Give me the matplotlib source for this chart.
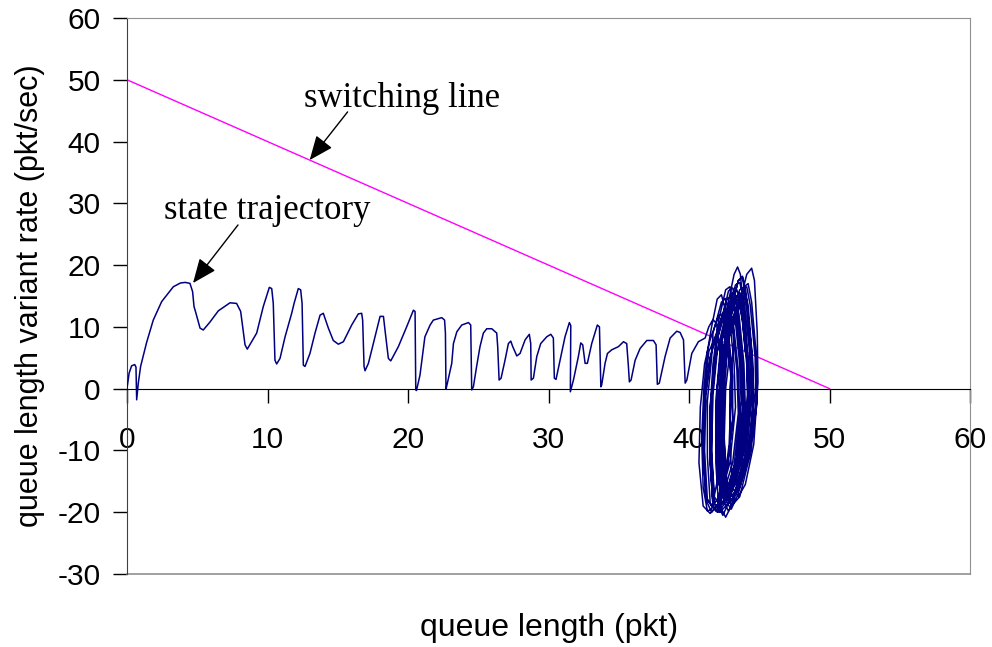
import numpy as np
import matplotlib
matplotlib.use("Agg")
import matplotlib.pyplot as plt

plt.rcParams['axes.unicode_minus'] = False

# state trajectory (queue length, queue length variant rate)
approach_x = [0, 0.15, 0.33, 0.55, 0.64, 0.69, 0.8, 0.97, 1.4, 1.87, 2.47, 3.3, 3.8, 4.13, 4.48, 4.67,
              4.77, 4.91, 5.2, 5.43, 5.91, 6.5, 7.33, 7.8, 8.09, 8.4, 8.56, 8.87, 9.23, 9.7, 10.13,
              10.3, 10.41, 10.53, 10.65, 10.89, 11.25, 11.72, 11.89, 12.19, 12.36, 12.46, 12.55,
              12.67, 13.02, 13.38, 13.74, 13.97, 14.33, 14.68, 15.04, 15.4, 15.99, 16.46, 16.7,
              16.77, 16.87, 16.94, 17.18, 17.65, 18.01, 18.25, 18.36, 18.6, 18.77, 19.31, 19.9,
              20.38, 20.5, 20.55, 20.6, 20.85, 21.2, 21.57, 21.8, 22.4, 22.6, 22.66, 22.7, 22.8,
              23.11, 23.23, 23.47, 23.82, 24.3, 24.46, 24.53, 24.65, 24.88, 25.12, 25.36, 25.6,
              25.96, 26.31, 26.38, 26.48, 26.62, 26.9, 27.14, 27.31, 27.45, 27.74, 27.97, 28.33,
              28.63, 28.73, 28.76, 28.92, 29.16, 29.44, 29.87, 30.16, 30.34, 30.41, 30.53, 30.82,
              31.17, 31.48, 31.58, 31.55, 31.77, 32.12, 32.29, 32.43, 32.6, 32.76, 33.07, 33.47,
              33.62, 33.72, 33.78, 34.02, 34.19, 34.5, 34.97, 35.33, 35.56, 35.68, 35.75, 35.87,
              36.16, 36.51, 36.99, 37.46, 37.65, 37.74, 37.88, 38.29, 38.65, 39.12, 39.36, 39.6,
              39.72, 39.84, 40.19, 40.66, 41.14]
approach_y = [0, 2.5, 3.7, 3.9, 3.5, -1.8, 0.8, 3.6, 7.5, 11.1, 14.1, 16.5, 17.1, 17.2, 17.05, 15.7,
              13.3, 12.2, 9.8, 9.5, 10.8, 12.6, 13.9, 13.8, 12.5, 7.1, 6.4, 7.6, 9.0, 13.3, 16.4,
              16.2, 13.8, 4.6, 4.0, 4.9, 8.4, 12.2, 13.8, 16.2, 16.0, 13.8, 3.8,
              3.6, 5.7, 9.0, 11.9, 12.2, 9.8, 7.8, 7.2, 7.6, 10.3, 12.1, 12.2,
              11.1, 3.6, 2.9, 4.1, 8.4, 11.7, 11.7, 9.5, 4.9, 4.5, 6.8, 10.0,
              12.7, 12.5, -0.2, -0.3, 2.2, 8.4, 10.3, 11.1, 11.5, 11.1, 9.0, -0.1, 0.9,
              4.1, 7.3, 9.2, 10.3, 10.7, 10.3, -0.2, 0.3, 3.6, 6.8, 9.0, 9.7,
              9.7, 9.0, 6.8, 1.4, 1.7, 4.6, 7.3, 7.7, 6.8, 5.3, 5.7, 7.9,
              8.8, 7.3, 1.4, 1.7, 5.2, 7.3, 8.4, 8.8, 8.2, 1.7, 1.5, 4.6,
              8.4, 10.7, 10.2, -0.5, 1.4, 5.2, 7.4, 7.1, 4.1, 4.1, 7.3, 10.3,
              10.0, 0.3, 0.6, 4.1, 5.7, 6.3, 6.8, 7.6, 7.3, 3.6, 1.1, 1.4,
              4.6, 6.5, 7.8, 7.8, 7.1, 0.7, 0.9, 5.2, 8.2, 9.3, 9.1, 7.9,
              0.9, 1.4, 5.7, 7.6, 8.2]

# oscillation around the sliding surface, loop by loop
cluster_x = [41.4, 41.7, 41.95, 42.2, 42.4, 42.35, 42.0, 41.6, 41.3, 41.0, 40.9, 41.05, 41.3,
             41.6, 42.0, 42.3, 42.55, 42.9, 43.0, 42.85, 42.4, 42.0, 41.7, 41.5, 41.5, 41.7,
             42.1, 42.6, 42.9, 43.2, 43.6, 43.7, 43.4, 42.8, 42.4, 42.1, 41.9, 41.9, 42.2,
             42.7, 43.2, 43.45, 43.65, 43.9, 44.2, 44.2, 43.7, 43.0, 42.6, 42.3, 42.1, 42.2, 42.5,
             43.0, 43.6, 43.9, 44.2, 44.5, 44.6, 44.3, 43.5, 43.0, 42.7, 42.4, 42.3, 42.6,
             42.8, 43.3, 43.6, 43.85, 44.2, 44.3, 43.9, 43.2, 42.8, 42.5, 42.2, 42.1, 42.4,
             42.9, 43.5, 43.8, 44.0, 44.4, 44.6, 44.3, 43.6, 43.0, 42.7, 42.5, 42.5, 42.8,
             43.5, 44.1, 44.45, 44.65, 44.85, 44.9, 44.6, 44.0, 43.5, 43.1, 42.9, 42.9, 43.2,
             43.1, 43.6, 43.9, 44.15, 44.5, 44.6, 44.2, 43.4, 42.9, 42.5, 42.2, 42.1, 42.4,
             42.3, 42.9, 43.2, 43.45, 43.8, 43.9, 43.5, 42.7, 42.1, 41.7, 41.5, 41.5, 41.8,
             41.9, 42.5, 42.8, 43.05, 43.4, 43.5, 43.1, 42.3, 41.8, 41.3, 41.1, 41.2, 41.5,
             41.8, 42.3, 42.55, 42.8, 43.1, 43.1, 42.7, 42.0, 41.5, 41.0, 40.7, 40.8, 41.1,
             41.5, 42.1, 42.35, 42.6, 43.0, 43.1, 42.7, 42.0, 41.6, 41.2, 41.0, 41.1, 41.5,
             42.0, 42.7, 43.0, 43.3, 43.7, 43.8, 43.4, 42.6, 42.1, 41.7, 41.5, 41.6, 41.9,
             42.5, 43.1, 43.4, 43.7, 44.1, 44.2, 43.8, 43.1, 42.6, 42.2, 42.0, 42.0, 42.3,
             42.7, 43.3, 43.6, 43.9, 44.3, 44.4, 44.0, 43.3, 42.8, 42.4, 42.2, 42.3, 42.6,
             42.8, 43.4, 43.65, 43.9, 44.2, 44.3, 43.9, 43.1, 42.6, 42.3, 42.1, 42.2, 42.5,
             42.6, 43.2, 43.5, 43.75, 44.1, 44.15, 43.8, 43.0, 42.5, 42.1, 41.9, 42.0, 42.3,
             43.3, 43.9, 44.2, 44.45, 44.8, 44.85, 44.4, 43.6, 43.1, 42.7, 42.5, 42.6, 42.9,
             42.4, 43.0, 43.3, 43.55, 43.9, 44.0, 43.6, 42.8, 42.2, 41.8, 41.6, 41.6, 41.9,
             42.0, 42.6, 42.9, 43.15, 43.5, 43.6, 43.2, 42.4, 41.9, 41.5, 41.3, 41.3, 41.6,
             41.7, 42.3, 42.6, 42.85, 43.2, 43.3, 42.9, 42.1, 41.6, 41.2, 41.0, 41.1, 41.4,
             42.2, 42.8, 43.1, 43.4, 43.8, 43.9, 43.5, 42.7, 42.2, 41.8, 41.6, 41.7, 42.0,
             42.9, 43.5, 43.8, 44.05, 44.4, 44.5, 44.1, 43.3, 42.8, 42.4, 42.2, 42.3, 42.6,
             43.2, 43.8, 44.1, 44.35, 44.7, 44.75, 44.3, 43.5, 43.0, 42.6, 42.4, 42.4, 42.7,
             42.9, 43.4, 43.6, 43.8, 44.0]
cluster_y = [10.0, 11.2, 10.5, 6, 0, -8, -15, -19.5, -19.8, -16, -8, 0, 6,
             10, 14.5, 15.2, 13, 5, 0, -9, -17, -20, -19, -12, -3, 4,
             11, 16, 16.5, 13, 4, -2, -11, -18.5, -20.5, -19, -12, -2, 6,
             13, 18.5, 19.7, 18.5, 12, 3, -4, -13, -19, -20.8, -19.5, -11, -1, 7,
             12, 16, 16.4, 13.5, 5, -1, -10, -17, -19.5, -18.5, -12, -3, 5,
             10, 14.8, 15.5, 13, 4, -3, -12, -18, -19.8, -18.5, -11, -2, 6,
             12, 17.5, 18, 15, 6, -2, -11, -17.5, -19, -17, -9, 0, 8,
             13, 18.5, 19.5, 17.5, 9, 1, -9, -15.5, -17.5, -16, -9, 0, 8,
             11, 15, 15.6, 13, 5, -2, -10, -16.5, -18.5, -17, -10, -1, 6,
             8, 13.5, 14, 11, 3, -3, -12, -18, -20, -19, -12, -3, 4,
             7, 12.5, 13, 10.5, 3, -4, -12, -18, -19.5, -18, -10, -1, 5,
             8, 11.5, 12, 9, 2, -5, -13, -19, -20.2, -19, -12, -3, 4,
             8, 11.8, 12.1, 9.5, 2, -5, -13, -18, -19, -17.5, -10, -2, 5,
             9, 14.5, 15, 12, 4, -3, -11, -17.5, -19.5, -18.5, -11, -2, 5,
             11, 15.5, 16, 13.5, 5, -2, -10, -16.5, -18, -16.5, -9, 0, 7,
             12, 16.8, 17.2, 14.5, 6, -1, -9, -15.5, -17, -15, -8, 0, 7,
             11, 15, 15.4, 12.5, 5, -2, -10, -16, -17.5, -16, -8, 0, 6,
             10, 14, 14.5, 12, 4, -1, -9, -15.5, -17, -15.5, -8, 0, 6,
             11, 16.5, 17, 14, 5, -2, -10, -16, -17.5, -16, -8, 0, 6,
             9, 14, 14.6, 12, 4, -3, -12, -18.5, -20, -18.5, -11, -2, 5,
             8, 12.8, 13.3, 10.5, 3, -4, -12.5, -18.5, -19.8, -18.5, -11, -2, 5,
             9, 14, 14.6, 12, 4, -3, -12, -18.5, -20, -18, -10, -1, 6,
             10, 15.8, 16.3, 13.5, 5, -2, -11, -17.5, -19, -17.5, -10, -1, 6,
             12, 17.5, 18.2, 15.5, 7, -1, -10, -16.5, -18, -16.5, -9, 0, 7,
             12, 16, 16.5, 13.5, 5, -2, -10, -16.5, -18, -16.5, -9, 0, 6,
             10, 13, 13.2, 11, 6]

# switching line end points
switch_x = [0, 50]
switch_y = [50, 0]

x_ticks = [0, 10, 20, 30, 40, 50, 60]
y_ticks = [-30, -20, -10, 0, 10, 20, 30, 40, 50, 60]

traj_x = approach_x + cluster_x
traj_y = approach_y + cluster_y

fig = plt.figure(figsize=(9.92, 6.47), dpi=100)
ax = fig.add_axes([0.128, 0.1128, 0.850, 0.8594])

ax.plot(switch_x, switch_y, color='#ff00ff', lw=1.0, zorder=2)
ax.plot(traj_x, traj_y, color='#000080', lw=1.1, zorder=3)

ax.set_xlim(0, 60)
ax.set_ylim(-30, 60)
ax.set_xticks(x_ticks)
ax.set_yticks(y_ticks)

# x axis drawn through y = 0, frame stays grey
ax.spines['bottom'].set_position(('data', 0))
ax.spines['bottom'].set_color('black')
ax.spines['left'].set_color('#404040')
ax.spines['top'].set_color('#909090')
ax.spines['right'].set_color('#909090')
ax.plot([0, 1], [0, 0], transform=ax.transAxes, color='#909090', lw=1.2, clip_on=False)

ax.tick_params(axis='x', direction='out', length=10, width=1, pad=17, labelsize=21.5)
ax.tick_params(axis='y', direction='out', length=10, width=1, pad=9, labelsize=21.5)
for lab in ax.get_xticklabels() + ax.get_yticklabels():
    lab.set_fontfamily('Liberation Sans')

ax.text(0.5, -0.097, 'queue length (pkt)', transform=ax.transAxes, ha='center', va='center',
        fontsize=23, family='Liberation Sans')
ax.text(-0.115, 0.5, 'queue length variant rate (pkt/sec)', transform=ax.transAxes,
        ha='center', va='center', rotation=90, fontsize=22, family='Liberation Sans')

# callouts
ax.text(19.6, 46.9, 'switching line', ha='center', va='center', fontsize=25,
        family='Liberation Serif')
ax.annotate('', xy=(13.0, 37.0), xytext=(15.7, 44.8),
            arrowprops=dict(arrowstyle='-|>,head_length=0.6,head_width=0.25', color='black',
                            lw=1, mutation_scale=25, shrinkA=0, shrinkB=0))
ax.text(10.0, 28.9, 'state trajectory', ha='center', va='center', fontsize=25,
        family='Liberation Serif')
ax.annotate('', xy=(4.7, 17.1), xytext=(7.9, 26.5),
            arrowprops=dict(arrowstyle='-|>,head_length=0.6,head_width=0.25', color='black',
                            lw=1, mutation_scale=25, shrinkA=0, shrinkB=0))

fig.savefig('out.png', dpi=100)
